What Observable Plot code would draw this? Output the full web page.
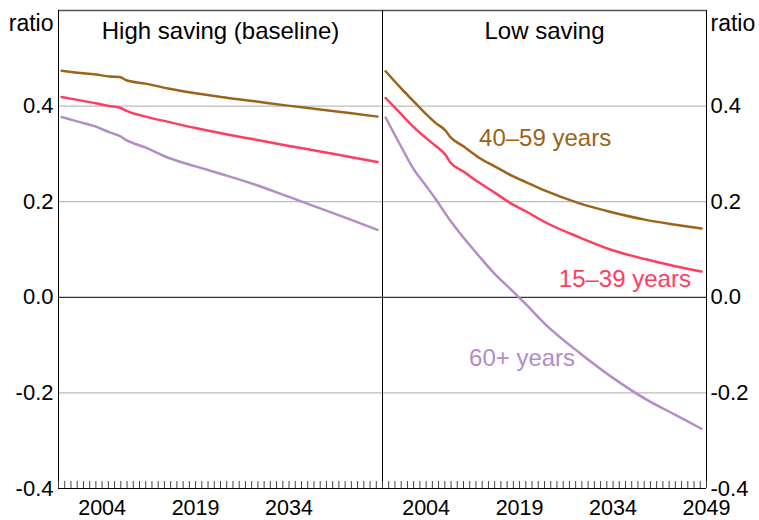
<!DOCTYPE html>
<html>
<head>
<meta charset="utf-8">
<script src="https://cdn.jsdelivr.net/npm/d3@7"></script>
<script src="https://cdn.jsdelivr.net/npm/@observablehq/plot@0.6"></script>
<style>
  html, body { margin: 0; padding: 0; background: #fff; }
  #chart { width: 759px; height: 520px; }
</style>
</head>
<body>
<div id="chart"></div>
<script>
const panels = ["High saving (baseline)", "Low saving"];
const ageGroups = ["40–59 years", "15–39 years", "60+ years"];
const colors = ["#9c6418", "#ff3d5e", "#b48cc8"];

const highYears = [1997.5, 2000, 2003, 2005.2, 2006.8, 2007.9, 2011, 2014.6, 2019, 2023.1, 2028.5, 2033.8, 2039, 2044, 2048.2];
const highAge40to59 = [0.474, 0.470, 0.466, 0.462, 0.461, 0.454, 0.447, 0.437, 0.427, 0.419, 0.410, 0.401, 0.393, 0.385, 0.378];
const highAge15to39 = [0.419, 0.413, 0.406, 0.400, 0.397, 0.390, 0.378, 0.367, 0.354, 0.343, 0.330, 0.317, 0.305, 0.293, 0.283];
const highAge60plus = [0.377, 0.368, 0.357, 0.345, 0.3375, 0.329, 0.313, 0.292, 0.274, 0.258, 0.236, 0.211, 0.186, 0.162, 0.141];

const lowYears = [1997.5, 2000, 2002, 2004, 2005.5, 2007.1, 2007.9, 2010, 2012.5, 2015, 2017.8, 2020, 2023.1, 2028.5, 2033.8, 2039.1, 2044, 2048.2];
const lowAge40to59 = [0.473, 0.437, 0.410, 0.383, 0.365, 0.349, 0.335, 0.316, 0.292, 0.274, 0.254, 0.241, 0.223, 0.197, 0.178, 0.1625, 0.152, 0.144];
const lowAge15to39 = [0.417, 0.383, 0.356, 0.333, 0.317, 0.298, 0.282, 0.263, 0.240, 0.219, 0.195, 0.180, 0.157, 0.126, 0.099, 0.080, 0.065, 0.054];
const lowAge60plus = [0.376, 0.315, 0.268, 0.233, 0.206, 0.175, 0.160, 0.125, 0.086, 0.049, 0.014, -0.0145, -0.056, -0.115, -0.167, -0.212, -0.246, -0.275];

const xDomain = [1997, 2049];
const yDomain = [-0.4, 0.6];
const yTicks = [-0.4, -0.2, 0, 0.2, 0.4];
const gridValues = [-0.2, 0.2, 0.4];
const minorTickYears = d3.range(1997, 2050);
const leftTickLabels = [2004, 2019, 2034];
const rightTickLabels = [2004, 2019, 2034, 2049];
const yUnit = "ratio";

// series label positions (year, value)
const seriesLabels = [
  {panel: panels[1], age: ageGroups[0], year: 2023.1, value: 0.333},
  {panel: panels[1], age: ageGroups[1], year: 2035.9, value: 0.0385},
  {panel: panels[1], age: ageGroups[2], year: 2019.4, value: -0.127}
];

const rows = [];
function addSeries(panel, years, values, age) {
  years.forEach((y, i) => rows.push({panel, age, year: y, value: values[i]}));
}
addSeries(panels[0], highYears, highAge40to59, ageGroups[0]);
addSeries(panels[0], highYears, highAge15to39, ageGroups[1]);
addSeries(panels[0], highYears, highAge60plus, ageGroups[2]);
addSeries(panels[1], lowYears, lowAge40to59, ageGroups[0]);
addSeries(panels[1], lowYears, lowAge15to39, ageGroups[1]);
addSeries(panels[1], lowYears, lowAge60plus, ageGroups[2]);

const tickLabelRows = [
  ...leftTickLabels.map(y => ({panel: panels[0], year: y})),
  ...rightTickLabels.map(y => ({panel: panels[1], year: y}))
];

const fmt = d => d.toFixed(1);

const chart = Plot.plot({
  width: 759,
  height: 520,
  marginLeft: 58,
  marginRight: 53,
  marginTop: 10,
  marginBottom: 32,
  style: {fontFamily: "'Liberation Sans', Arial, sans-serif", fontSize: "23px", background: "#fff", color: "#000"},
  fx: {domain: panels, padding: 0, axis: null},
  x: {domain: xDomain},
  y: {domain: yDomain},
  color: {domain: ageGroups, range: colors},
  marks: [
    Plot.ruleY(gridValues, {stroke: "#bcbcbc", strokeWidth: 1.2}),
    Plot.ruleY([0], {stroke: "#000", strokeWidth: 1}),
    Plot.ruleY([yDomain[1]], {stroke: "#555", strokeWidth: 1.5}),
    Plot.line(rows, {fx: "panel", x: "year", y: "value", z: "age", stroke: "age", strokeWidth: 2.5, curve: "monotone-x"}),
    Plot.ruleY([yDomain[0]], {stroke: "#000", strokeWidth: 1}),
    Plot.ruleX(xDomain, {stroke: "#000", strokeWidth: 1}),
    Plot.axisX({ticks: minorTickYears, tickSize: -7, tickFormat: () => "", stroke: "#444", label: null}),
    Plot.text(tickLabelRows, {fx: "panel", x: "year", text: d => String(d.year), frameAnchor: "bottom", lineAnchor: "middle", dy: 20, fontSize: 21.5, fill: "#000"}),
    Plot.axisY({anchor: "left", ticks: yTicks, tickFormat: fmt, tickSize: 0, tickPadding: 5, fontSize: 22, label: null}),
    Plot.axisY({anchor: "right", ticks: yTicks, tickFormat: fmt, tickSize: 0, tickPadding: 4, fontSize: 22, label: null}),
    Plot.text([{panel: panels[0]}], {fx: "panel", text: () => yUnit, frameAnchor: "top-left", lineAnchor: "middle", textAnchor: "end", dx: -5, dy: 13, fontSize: 23}),
    Plot.text([{panel: panels[1]}], {fx: "panel", text: () => yUnit, frameAnchor: "top-right", lineAnchor: "middle", textAnchor: "start", dx: 4, dy: 13, fontSize: 23}),
    Plot.text(panels, {fx: d => d, text: d => d, frameAnchor: "top", lineAnchor: "middle", dy: 21, fontSize: 24, fill: "#000"}),
    Plot.text(seriesLabels, {fx: "panel", x: "year", y: "value", text: "age", fill: "age", fontSize: 24})
  ]
});
document.getElementById("chart").appendChild(chart);
</script>
</body>
</html>
